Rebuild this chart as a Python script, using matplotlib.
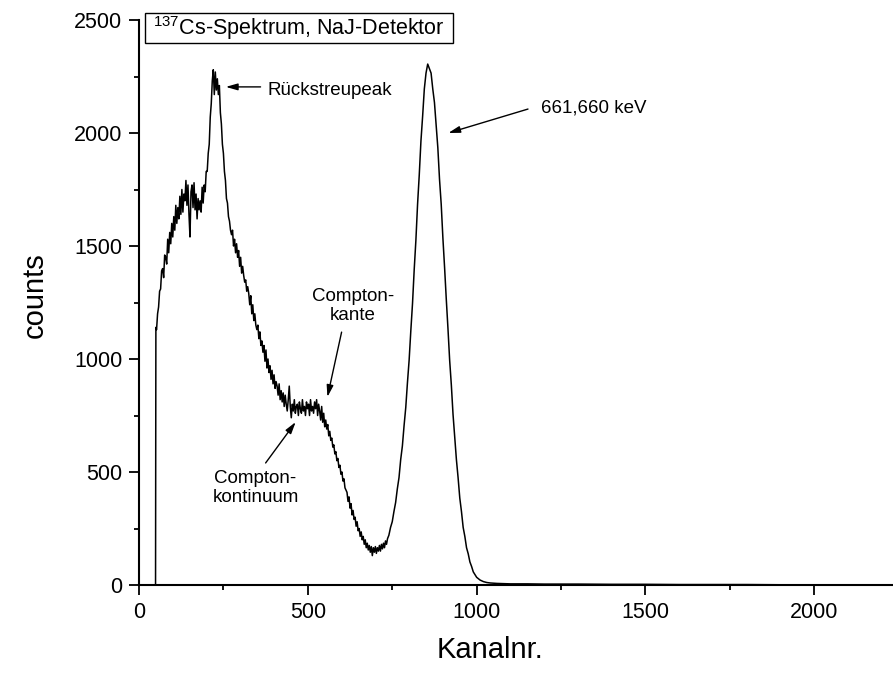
import matplotlib
matplotlib.use("Agg")
import matplotlib.pyplot as plt
from matplotlib.ticker import MultipleLocator
from matplotlib.patches import Rectangle

plt.rcParams['font.family'] = ['Liberation Sans', 'DejaVu Sans']
plt.rcParams['mathtext.fontset'] = 'custom'
plt.rcParams['mathtext.rm'] = 'Liberation Sans'

# --- data (channel, counts) ---
hump_ch = [49, 50, 52, 55, 58, 61, 64, 67, 70, 73, 76, 79, 82, 85, 88, 91, 94, 97,
           100, 103, 106, 109, 112, 115, 118, 121, 124, 127, 130, 133, 136, 139,
           142, 145, 148, 151, 154, 157, 160, 163, 166, 169, 172, 175, 178, 181,
           184, 187, 190, 193, 196, 199, 202, 205, 208, 211, 214, 217, 220, 223,
           226, 229, 232, 235, 238, 241, 244, 247, 250, 253, 256, 259, 262, 265,
           268, 271, 274, 277, 280]
hump_counts = [0, 1140, 1130, 1200, 1230, 1300, 1310, 1390, 1400, 1360, 1460, 1450,
               1420, 1530, 1470, 1560, 1510, 1600, 1540, 1630, 1570, 1680, 1600, 1670,
               1620, 1720, 1640, 1750, 1650, 1730, 1700, 1790, 1680, 1770, 1640, 1540,
               1740, 1770, 1670, 1780, 1660, 1730, 1620, 1710, 1660, 1700, 1650, 1760,
               1690, 1770, 1740, 1830, 1830, 1910, 1950, 2070, 2130, 2230, 2280, 2170,
               2270, 2190, 2240, 2170, 2210, 2090, 2040, 1950, 1910, 1830, 1790, 1710,
               1690, 1630, 1610, 1570, 1550, 1570, 1500]

compton_ch = [283, 286, 289, 292, 295, 298, 301, 304, 307, 310, 313, 316, 319, 322,
              325, 328, 331, 334, 337, 340, 343, 346, 349, 352, 355, 358, 361, 364,
              367, 370, 373, 376, 379, 382, 385, 388, 391, 394, 397, 400, 403, 406,
              409, 412, 415, 418, 421, 424, 427, 430, 433, 436, 439, 442, 445, 448,
              451, 454, 457, 460, 463, 466, 469, 472, 475, 478, 481, 484, 487, 490,
              493, 496, 499, 502, 505, 508, 511, 514, 517, 520, 523, 526, 529, 532,
              535, 538, 541, 544, 547, 550, 553, 556, 559, 562, 565, 568, 571, 574,
              577, 580, 583, 586, 589, 592, 595, 598, 601, 604, 607, 610, 613, 616,
              619, 622, 625, 628, 631, 634, 637, 640, 643, 646, 649, 652, 655, 658,
              661, 664, 667, 670, 673, 676, 679, 682, 685, 688, 691, 694, 697, 700,
              703, 706, 709, 712, 715, 718, 721, 724, 727, 730, 733, 736]
compton_counts = [1530, 1470, 1510, 1450, 1480, 1410, 1450, 1380, 1410, 1370, 1340,
                  1350, 1300, 1320, 1290, 1240, 1280, 1200, 1240, 1170, 1200, 1150,
                  1130, 1150, 1090, 1120, 1060, 1080, 1030, 1060, 990, 1040, 960, 1000,
                  940, 970, 910, 950, 890, 930, 870, 900, 880, 840, 890, 820, 860, 810,
                  850, 790, 840, 800, 770, 820, 880, 790, 740, 800, 770, 820, 760, 790,
                  800, 750, 810, 780, 760, 820, 770, 790, 750, 810, 780, 800, 750, 820,
                  770, 790, 760, 810, 780, 820, 750, 800, 770, 730, 790, 720, 760, 700,
                  730, 690, 710, 660, 680, 640, 650, 610, 620, 580, 590, 550, 560, 520,
                  530, 490, 500, 460, 470, 430, 420, 410, 370, 390, 340, 360, 310, 330,
                  290, 300, 260, 280, 240, 250, 215, 235, 200, 215, 180, 200, 165, 185,
                  155, 175, 145, 170, 130, 165, 145, 170, 140, 165, 150, 175, 150, 180,
                  160, 185, 165, 195, 180, 205]

peak_ch = [740, 745, 750, 755, 760, 765, 770, 775, 780, 785, 790, 795, 800, 805, 810,
           815, 820, 825, 830, 835, 840, 845, 850, 855, 860, 865, 870, 875, 880, 885,
           890, 895, 900, 905, 910, 915, 920, 925, 930, 935, 940, 945, 950, 955, 960,
           965, 970, 975, 980, 985, 990, 995, 1000]
peak_counts = [220, 255, 280, 325, 365, 425, 475, 555, 615, 705, 785, 895, 995, 1125,
               1245, 1395, 1525, 1685, 1815, 1965, 2075, 2195, 2265, 2305, 2285, 2265,
               2195, 2135, 2035, 1935, 1795, 1685, 1535, 1405, 1265, 1135, 995, 885,
               755, 655, 555, 475, 385, 325, 255, 215, 165, 138, 102, 82, 58, 46, 34]

tail_ch = [1010, 1020, 1030, 1040, 1060, 1080, 1100, 1150, 1200, 1300, 1400, 1500,
           1600, 1700, 1800, 1900, 2000, 2047]
tail_counts = [22, 15, 11, 9, 7, 6, 5, 5, 4, 4, 3, 3, 2, 2, 2, 1, 1, 1]

channels = hump_ch + compton_ch + peak_ch + tail_ch
counts = hump_counts + compton_counts + peak_counts + tail_counts

# --- plot ---
fig = plt.figure(figsize=(8.93, 6.75), dpi=100)
ax = fig.add_axes([139 / 893, 90 / 675, 754 / 893, 565 / 675])
ax.plot(channels, counts, color='black', lw=1.1)

ax.set_xlim(0, 2233)
ax.set_ylim(0, 2500)
ax.xaxis.set_major_locator(MultipleLocator(500))
ax.xaxis.set_minor_locator(MultipleLocator(250))
ax.yaxis.set_major_locator(MultipleLocator(500))
ax.yaxis.set_minor_locator(MultipleLocator(250))
ax.spines['top'].set_visible(False)
ax.spines['right'].set_visible(False)
for s in ('left', 'bottom'):
    ax.spines[s].set_linewidth(1.5)
ax.tick_params(which='major', direction='out', length=7, width=1.3, labelsize=15.5, pad=5)
ax.tick_params(which='minor', direction='out', length=3.5, width=1.3)

ax.set_xlabel('Kanalnr.', fontsize=21)
ax.set_ylabel('counts', fontsize=21)
ax.xaxis.set_label_coords(0.465, -0.09)
ax.yaxis.set_label_coords(-0.12, 0.513)

# title box
fig.patches.append(Rectangle((145 / 893, 1 - 43 / 675), 308 / 893, 30 / 675,
                             transform=fig.transFigure, fill=False, lw=1, ec='black'))
fig.text(299 / 893, 1 - 28 / 675, r'$^{\mathregular{137}}$Cs-Spektrum, NaJ-Detektor',
         ha='center', va='center', fontsize=15.5)

arrow = dict(arrowstyle='-|>,head_length=0.7,head_width=0.2', color='black', lw=1,
             shrinkA=0, shrinkB=0)
ax.annotate('', xy=(257, 2204), xytext=(360, 2204), arrowprops=arrow)
ax.text(381, 2190, 'Rückstreupeak', fontsize=13.5, va='center', ha='left')

ax.annotate('', xy=(916, 2000), xytext=(1152, 2106), arrowprops=arrow)
ax.text(1192, 2110, '661,660 keV', fontsize=13.5, va='center', ha='left')

ax.annotate('', xy=(558, 832), xytext=(600, 1119), arrowprops=arrow)
ax.text(634, 1235, 'Compton-\nkante', fontsize=13.5, va='center', ha='center',
        linespacing=1.2)

ax.annotate('', xy=(464, 721), xytext=(375, 540), arrowprops=arrow)
ax.text(345, 430, 'Compton-\nkontinuum', fontsize=13.5, va='center', ha='center',
        linespacing=1.2)

fig.savefig('out.png', dpi=100)
